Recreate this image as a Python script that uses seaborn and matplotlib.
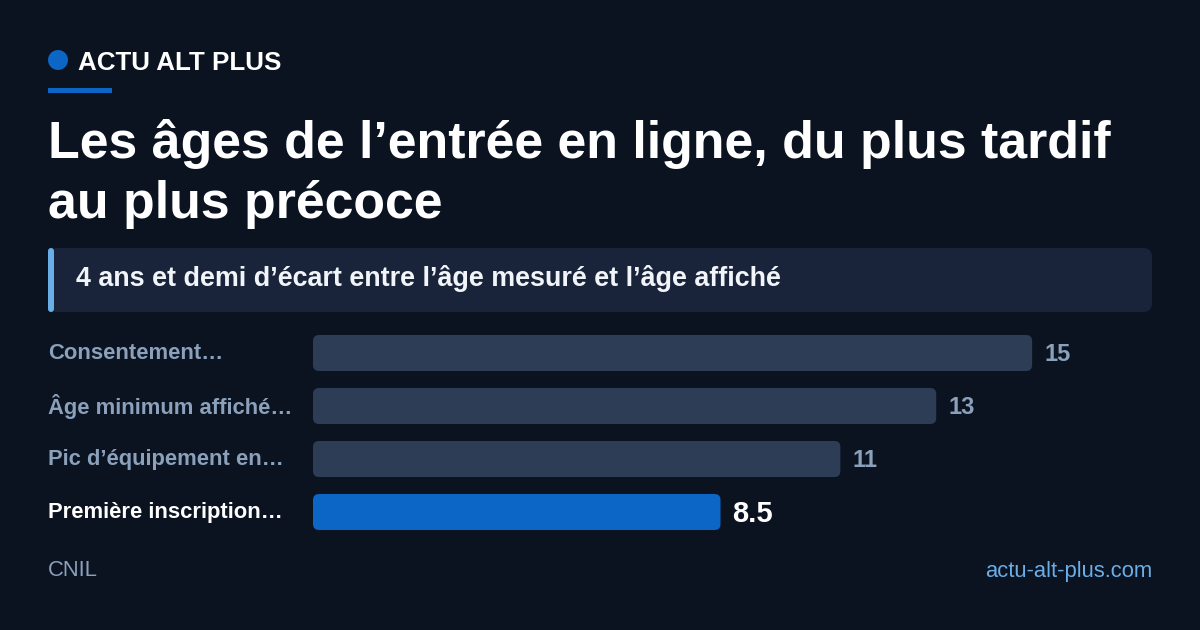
import matplotlib
matplotlib.use("Agg")
import matplotlib.pyplot as plt
import seaborn as sns
import pandas as pd
from matplotlib.patches import FancyBboxPatch, Circle, Rectangle
from matplotlib.transforms import IdentityTransform, blended_transform_factory

# ---- data ----
categories = ["Consentement…", "Âge minimum affiché…", "Pic d’équipement en…", "Première inscription…"]
values = [15, 13, 11, 8.5]
value_labels = ["15", "13", "11", "8.5"]
highlight = [False, False, False, True]

title_lines = ["Les âges de l’entrée en ligne, du plus tardif", "au plus précoce"]
subtitle = "4 ans et demi d’écart entre l’âge mesuré et l’âge affiché"
brand = "ACTU ALT PLUS"
source = "CNIL"
site = "actu-alt-plus.com"

# ---- style ----
BG = "#0b1220"
BAR = "#2e3d56"
HI = "#0c66c6"
LABEL = "#8aa0bb"
BOX = "#19243a"
ACCENT = "#6aaee8"
WHITE = "#ffffff"

sns.set_theme(style="white")
plt.rcParams["font.family"] = ["Liberation Sans", "DejaVu Sans"]

W, H = 1200, 630
fig = plt.figure(figsize=(12, 6.3), dpi=100, facecolor=BG)
ident = IdentityTransform()

def py(y):
    return H - y

# header
fig.add_artist(Circle((58, py(60)), 10, transform=ident, color=HI, lw=0))
fig.text(78 / W, 1 - 63 / H, brand, color=WHITE, fontsize=18.7, fontweight="bold",
         ha="left", va="center")
fig.add_artist(Rectangle((48, py(93)), 64, 5, transform=ident, color=HI, lw=0))

# title
fig.text(48 / W, 1 - 158 / H, title_lines[0], color=WHITE, fontsize=37.4, fontweight="bold",
         ha="left", va="baseline")
fig.text(48 / W, 1 - 218 / H, title_lines[1], color=WHITE, fontsize=37.4, fontweight="bold",
         ha="left", va="baseline")

# subtitle box
fig.add_artist(FancyBboxPatch((48, py(312)), 1104, 64, boxstyle="round,pad=0,rounding_size=9",
                              transform=ident, facecolor=BOX, edgecolor="none"))
fig.add_artist(FancyBboxPatch((48, py(312)), 6, 64, boxstyle="round,pad=0,rounding_size=3",
                              transform=ident, facecolor=ACCENT, edgecolor="none"))
fig.text(76 / W, 1 - 278 / H, subtitle, color="#f1f5f9", fontsize=19.4, fontweight="bold",
         ha="left", va="center")

# bars
ax_l, ax_r, ax_t, ax_b = 313, 1152, 326.5, 538.5
ax = fig.add_axes([ax_l / W, 1 - ax_b / H, (ax_r - ax_l) / W, (ax_b - ax_t) / H])
ax.set_facecolor(BG)
df = pd.DataFrame({"cat": categories, "val": values})
palette = [HI if h else BAR for h in highlight]
sns.barplot(data=df, x="val", y="cat", hue="cat", palette=palette, legend=False,
            orient="h", width=36 / 53, ax=ax, saturation=1)
xmax = 17.5
ax.set_xlim(0, xmax)
ax.set_ylim(3.5, -0.5)
ax.axis("off")

px_per_x = (ax_r - ax_l) / xmax
px_per_y = (ax_b - ax_t) / 4.0
rad = 6
for p in list(ax.patches):
    x0, y0 = p.get_x(), p.get_y()
    w, h = p.get_width(), p.get_height()
    fc = p.get_facecolor()
    p.remove()
    fb = FancyBboxPatch((x0, y0), w, h,
                        boxstyle=f"round,pad=0,rounding_size={rad / px_per_x}",
                        mutation_aspect=px_per_x / px_per_y,
                        facecolor=fc, edgecolor="none")
    ax.add_patch(fb)

label_tr = blended_transform_factory(fig.transFigure, ax.transData)
for i, (cat, v, lab, h) in enumerate(zip(categories, values, value_labels, highlight)):
    ax.text(48 / W, i + 0.01, cat, transform=label_tr, ha="left", va="center",
            color=WHITE if h else LABEL, fontsize=15.8, fontweight="bold")
    ax.text(v + 12 / px_per_x, i + (0.04 if h else 0.03), lab, ha="left", va="center",
            color=WHITE if h else LABEL, fontsize=21 if h else 17, fontweight="bold")

# footer
fig.text(48 / W, 1 - 571 / H, source, color=LABEL, fontsize=15.8, ha="left", va="center")
fig.text(1152 / W, 1 - 571 / H, site, color=ACCENT, fontsize=15.8, ha="right", va="center")

fig.savefig("out.png", dpi=100, facecolor=BG)
